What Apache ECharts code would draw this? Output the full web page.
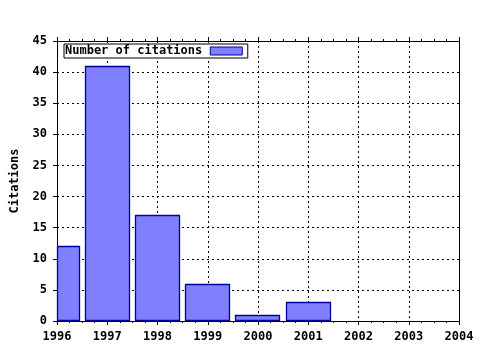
<!DOCTYPE html>
<html>
<head>
<meta charset="utf-8">
<script src="https://cdn.jsdelivr.net/npm/echarts@6/dist/echarts.min.js"></script>
<style>html,body{margin:0;padding:0;background:#fff}#c{width:480px;height:350px}</style>
</head>
<body>
<div id="c"></div>
<script>
var years = [1996, 1997, 1998, 1999, 2000, 2001, 2002, 2003, 2004];
var citations = [12, 41, 17, 6, 1, 3, 0, 0, 0];
var seriesName = 'Number of citations';
var yAxisName = 'Citations';

var FONT = 'DejaVu Sans Mono';
var chart = echarts.init(document.getElementById('c'), null, {renderer: 'canvas'});
var data = years.map(function (y, i) { return [y, citations[i]]; });

function renderBar(params, api) {
  var x = api.value(0), v = api.value(1);
  if (!v) return null;
  var p0 = api.coord([x - 0.45, v]);
  var p1 = api.coord([x + 0.45, 0]);
  var rect = echarts.graphic.clipRectByRect({
    x: p0[0], y: p0[1], width: p1[0] - p0[0], height: p1[1] - p0[1]
  }, {
    x: params.coordSys.x, y: params.coordSys.y,
    width: params.coordSys.width, height: params.coordSys.height
  });
  if (!rect) return null;
  return {
    type: 'rect',
    shape: {x: Math.round(rect.x) + 0.5, y: Math.round(rect.y) + 0.5, width: Math.round(rect.width) - 1, height: Math.round(rect.height) - 1},
    style: {fill: '#8080ff', stroke: '#00009c', lineWidth: 1.3}
  };
}

var lineStyle = {color: '#000', width: 1};
chart.setOption({
  animation: false,
  textStyle: {fontFamily: FONT},
  grid: {left: 57, right: 21, top: 41, bottom: 29, show: false, containLabel: false, outerBoundsMode: 'none'},
  legend: {
    show: true,
    left: 64, top: 44,
    orient: 'horizontal',
    align: 'right',
    itemWidth: 32, itemHeight: 8,
    itemGap: 0,
    padding: [1, 5, 1, 1],
    borderColor: '#000', borderWidth: 1,
    backgroundColor: '#fff',
    textStyle: {fontFamily: FONT, fontWeight: 'bold', fontSize: 12, color: '#000', padding: [0, 3, 0, 0]},
    data: [{name: seriesName, icon: 'rect', itemStyle: {color: '#8080ff', borderColor: '#00009c', borderWidth: 1}}]
  },
  xAxis: [{
    type: 'value', min: 1996, max: 2004, interval: 1,
    axisLine: {show: true, lineStyle: lineStyle},
    axisTick: {show: true, length: 4, lineStyle: lineStyle},
    minorTick: {show: true, splitNumber: 4, length: 2, lineStyle: lineStyle},
    axisLabel: {color: '#000', fontFamily: FONT, fontWeight: 'bold', fontSize: 12, margin: 10, formatter: function (v) { return String(v); }},
    splitLine: {show: true, lineStyle: {color: '#000', type: [2, 3], width: 1}}
  }, {
    type: 'value', min: 1996, max: 2004, interval: 1, position: 'top',
    axisLine: {show: true, onZero: false, lineStyle: lineStyle},
    axisTick: {show: true, length: 4, lineStyle: lineStyle},
    minorTick: {show: true, splitNumber: 4, length: 2, lineStyle: lineStyle},
    axisLabel: {show: false},
    splitLine: {show: false}
  }],
  yAxis: [{
    type: 'value', min: 0, max: 45, interval: 5,
    name: yAxisName, nameLocation: 'middle', nameGap: 36, nameRotate: 90,
    nameTextStyle: {color: '#000', fontFamily: FONT, fontWeight: 'bold', fontSize: 12},
    axisLine: {show: true, onZero: false, lineStyle: lineStyle},
    axisTick: {show: true, length: 4, lineStyle: lineStyle},
    axisLabel: {color: '#000', fontFamily: FONT, fontWeight: 'bold', fontSize: 12, margin: 10},
    splitLine: {show: true, lineStyle: {color: '#000', type: [2, 3], width: 1}}
  }, {
    type: 'value', min: 0, max: 45, interval: 5, position: 'right',
    axisLine: {show: true, onZero: false, lineStyle: lineStyle},
    axisTick: {show: false},
    axisLabel: {show: false},
    splitLine: {show: false}
  }],
  series: [{
    name: seriesName,
    type: 'custom',
    renderItem: renderBar,
    data: data,
    encode: {x: 0, y: 1},
    itemStyle: {color: '#8080ff', borderColor: '#00009c', borderWidth: 1},
    z: 1
  }]
});
</script>
</body>
</html>
